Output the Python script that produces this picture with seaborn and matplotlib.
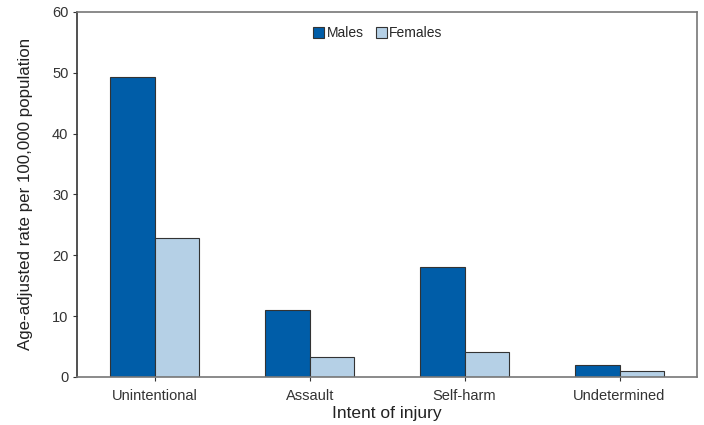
import pandas as pd
import matplotlib.pyplot as plt
import seaborn as sns

intents = ["Unintentional", "Assault", "Self-harm", "Undetermined"]
males = [49.3, 11.0, 18.1, 2.0]
females = [22.8, 3.3, 4.1, 1.0]

df = pd.DataFrame({
    "Intent": intents * 2,
    "Sex": ["Males"] * 4 + ["Females"] * 4,
    "Rate": males + females,
})

sns.set_style("white")
plt.rcParams["font.family"] = ["Liberation Sans", "DejaVu Sans"]

fig, ax = plt.subplots(figsize=(7.04, 4.25), dpi=100)
fig.subplots_adjust(left=0.11, right=0.99, top=0.972, bottom=0.113)

sns.barplot(data=df, x="Intent", y="Rate", hue="Sex", order=intents,
            hue_order=["Males", "Females"],
            palette=["#005DA8", "#B5D0E6"], width=0.575,
            edgecolor="#333333", linewidth=0.8, saturation=1, ax=ax)

ax.set_ylim(0, 60)
ax.set_yticks(range(0, 61, 10))
ax.set_xlabel("Intent of injury", fontsize=12.5, color="#222222", labelpad=2)
ax.set_ylabel("Age-adjusted rate per 100,000 population", fontsize=12.2,
              color="#222222", labelpad=14)
ax.tick_params(axis="both", labelsize=10.5, colors="#333333", length=3,
               direction="out", left=True, bottom=True)
ax.tick_params(axis="x", pad=6)
for side in ["top", "right", "bottom"]:
    ax.spines[side].set_color("#777777")
ax.spines["left"].set_color("#333333")
for s in ax.spines.values():
    s.set_linewidth(1.2)

leg = ax.legend(loc="upper center", bbox_to_anchor=(0.485, 0.995), ncol=2,
                frameon=False, fontsize=10, handlelength=0.8,
                handleheight=0.8, handletextpad=0.15, columnspacing=0.9)

fig.savefig("out.png", dpi=100)
